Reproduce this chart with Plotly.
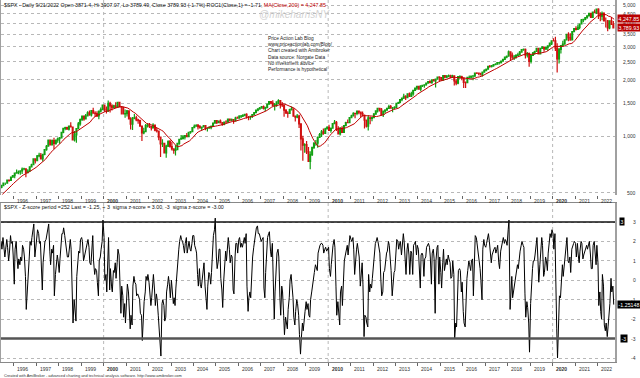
import math
import pandas as pd
import plotly.graph_objects as go

# ---------------- DATA (monthly estimates, Jun 1995 - Sep 2022) ----------------
FIRST_MONTH = "1995-06-01"
WARMUP_CLOSE = [463, 472, 454, 459, 470, 487, 501, 515, 533]  # Sep 1994 - May 1995

CLOSE = [
    545, 562, 562, 584, 582, 605, 616,
    636, 640, 645, 654, 669, 671, 640, 652, 687, 705, 757, 741,
    786, 791, 757, 801, 848, 885, 954, 899, 947, 915, 955, 970,
    980, 1049, 1102, 1112, 1091, 1134, 1121, 957, 1017, 1099, 1164, 1229,
    1280, 1238, 1286, 1335, 1302, 1373, 1329, 1320, 1283, 1363, 1389, 1469,
    1394, 1366, 1499, 1452, 1421, 1455, 1431, 1518, 1437, 1429, 1315, 1320,
    1366, 1240, 1160, 1249, 1256, 1224, 1211, 1134, 1041, 1060, 1139, 1148,
    1130, 1107, 1147, 1077, 1067, 990, 912, 916, 815, 886, 936, 880,
    856, 841, 848, 917, 964, 975, 990, 1008, 996, 1051, 1058, 1112,
    1131, 1145, 1126, 1107, 1121, 1141, 1102, 1104, 1115, 1130, 1174, 1212,
    1181, 1204, 1181, 1157, 1192, 1191, 1234, 1220, 1229, 1207, 1249, 1248,
    1280, 1281, 1295, 1311, 1270, 1270, 1277, 1304, 1336, 1378, 1401, 1418,
    1438, 1407, 1421, 1482, 1531, 1503, 1455, 1474, 1527, 1549, 1481, 1468,
    1379, 1331, 1323, 1386, 1400, 1280, 1267, 1283, 1166, 969, 896, 903,
    826, 735, 798, 873, 919, 919, 987, 1021, 1057, 1036, 1096, 1115,
    1074, 1104, 1169, 1187, 1089, 1031, 1102, 1049, 1141, 1183, 1181, 1258,
    1286, 1327, 1326, 1364, 1345, 1321, 1292, 1219, 1131, 1253, 1247, 1258,
    1312, 1366, 1408, 1398, 1310, 1362, 1379, 1407, 1441, 1412, 1416, 1426,
    1498, 1515, 1569, 1598, 1631, 1606, 1686, 1633, 1682, 1757, 1806, 1848,
    1783, 1859, 1872, 1884, 1924, 1960, 1931, 2003, 1972, 2018, 2068, 2059,
    1995, 2105, 2068, 2086, 2107, 2063, 2104, 1972, 1920, 2079, 2080, 2044,
    1940, 1932, 2060, 2065, 2097, 2099, 2174, 2171, 2168, 2126, 2199, 2239,
    2279, 2364, 2363, 2384, 2412, 2423, 2470, 2472, 2519, 2575, 2648, 2674,
    2824, 2714, 2641, 2648, 2705, 2718, 2816, 2902, 2914, 2712, 2760, 2507,
    2704, 2784, 2834, 2946, 2752, 2942, 2980, 2926, 2977, 3038, 3141, 3231,
    3226, 2954, 2585, 2912, 3044, 3100, 3271, 3500, 3363, 3270, 3622, 3756,
    3714, 3811, 3973, 4181, 4204, 4298, 4395, 4523, 4308, 4605, 4567, 4766,
    4516, 4374, 4530, 4132, 4132, 3785, 4130, 3955, 3789.93,
]

HIGH = [
    552, 564, 565, 586, 587, 608, 622,
    638, 664, 656, 656, 681, 680, 675, 667, 690, 714, 762, 762,
    795, 818, 815, 804, 851, 898, 954, 961, 960, 983, 961, 986,
    992, 1050, 1105, 1124, 1124, 1141, 1190, 1122, 1066, 1103, 1193, 1245,
    1280, 1285, 1317, 1362, 1372, 1375, 1421, 1360, 1361, 1373, 1425, 1475,
    1478, 1444, 1553, 1527, 1481, 1474, 1517, 1525, 1530, 1441, 1436, 1390,
    1383, 1377, 1264, 1269, 1316, 1286, 1240, 1226, 1135, 1110, 1164, 1173,
    1176, 1130, 1173, 1148, 1107, 1070, 994, 965, 924, 900, 952, 954,
    935, 864, 895, 924, 965, 1015, 1016, 1011, 1040, 1053, 1063, 1112,
    1155, 1158, 1163, 1150, 1128, 1146, 1140, 1112, 1131, 1142, 1188, 1217,
    1217, 1212, 1229, 1192, 1199, 1219, 1245, 1246, 1243, 1233, 1270, 1276,
    1295, 1297, 1311, 1319, 1326, 1284, 1280, 1307, 1340, 1389, 1407, 1431,
    1441, 1462, 1438, 1498, 1535, 1540, 1556, 1504, 1539, 1576, 1553, 1524,
    1471, 1396, 1359, 1404, 1441, 1405, 1292, 1314, 1304, 1167, 1007, 919,
    944, 876, 832, 876, 930, 956, 997, 1040, 1080, 1101, 1111, 1130,
    1151, 1113, 1175, 1220, 1206, 1131, 1120, 1130, 1149, 1196, 1228, 1262,
    1303, 1344, 1333, 1366, 1371, 1345, 1357, 1307, 1230, 1293, 1277, 1269,
    1333, 1378, 1419, 1422, 1415, 1363, 1392, 1426, 1475, 1471, 1434, 1448,
    1503, 1530, 1570, 1598, 1687, 1654, 1698, 1710, 1730, 1768, 1813, 1849,
    1850, 1867, 1884, 1897, 1924, 1968, 1991, 2005, 2019, 2018, 2075, 2094,
    2072, 2120, 2117, 2126, 2135, 2130, 2133, 2113, 2021, 2094, 2117, 2104,
    2039, 1963, 2073, 2111, 2103, 2120, 2178, 2194, 2188, 2169, 2214, 2278,
    2301, 2371, 2401, 2398, 2418, 2454, 2484, 2491, 2520, 2582, 2657, 2695,
    2873, 2835, 2801, 2718, 2742, 2791, 2848, 2916, 2941, 2940, 2815, 2800,
    2708, 2813, 2860, 2949, 2954, 2964, 3028, 3014, 3022, 3050, 3154, 3248,
    3338, 3394, 3137, 2955, 3068, 3233, 3280, 3514, 3588, 3550, 3646, 3760,
    3870, 3951, 3994, 4219, 4238, 4302, 4430, 4537, 4546, 4608, 4743, 4808,
    4818, 4595, 4637, 4593, 4307, 4177, 4140, 4325, 4119,
]

LOW = [
    528, 541, 550, 562, 572, 582, 602,
    597, 633, 627, 624, 630, 658, 605, 639, 650, 685, 702, 716,
    737, 773, 756, 733, 793, 836, 883, 898, 897, 855, 901, 924,
    912, 980, 1037, 1076, 1086, 1074, 1114, 957, 939, 923, 1098, 1137,
    1205, 1211, 1228, 1282, 1288, 1277, 1328, 1268, 1268, 1233, 1341, 1387,
    1350, 1325, 1347, 1339, 1374, 1420, 1414, 1431, 1429, 1305, 1315, 1255,
    1275, 1229, 1088, 1081, 1232, 1203, 1165, 1124, 945, 1026, 1054, 1114,
    1106, 1074, 1106, 1063, 1049, 953, 776, 877, 815, 768, 877, 872,
    840, 807, 789, 847, 902, 963, 962, 960, 990, 995, 1031, 1053,
    1105, 1125, 1088, 1107, 1076, 1113, 1078, 1060, 1102, 1091, 1127, 1173,
    1164, 1180, 1171, 1137, 1146, 1188, 1184, 1201, 1205, 1168, 1202, 1246,
    1245, 1253, 1268, 1280, 1245, 1219, 1224, 1253, 1290, 1327, 1360, 1385,
    1403, 1389, 1364, 1416, 1476, 1484, 1454, 1371, 1439, 1489, 1407, 1435,
    1270, 1317, 1257, 1324, 1373, 1272, 1200, 1248, 1107, 840, 741, 816,
    805, 735, 667, 784, 856, 889, 869, 978, 992, 1020, 1029, 1086,
    1071, 1045, 1101, 1170, 1066, 1029, 1011, 1040, 1040, 1131, 1173, 1186,
    1257, 1289, 1249, 1295, 1312, 1258, 1283, 1101, 1114, 1075, 1159, 1202,
    1259, 1312, 1341, 1358, 1292, 1267, 1325, 1377, 1397, 1403, 1343, 1398,
    1426, 1485, 1501, 1536, 1581, 1560, 1605, 1627, 1633, 1646, 1746, 1767,
    1770, 1737, 1834, 1814, 1859, 1915, 1930, 1905, 1964, 1821, 2001, 1973,
    1988, 1981, 2040, 2048, 2068, 2056, 2044, 1867, 1872, 1894, 2020, 1993,
    1812, 1810, 1937, 2039, 2025, 1992, 2075, 2148, 2120, 2114, 2084, 2187,
    2245, 2267, 2322, 2329, 2353, 2405, 2407, 2417, 2447, 2520, 2557, 2605,
    2683, 2533, 2585, 2553, 2595, 2691, 2699, 2796, 2864, 2603, 2631, 2347,
    2443, 2681, 2722, 2848, 2751, 2729, 2952, 2822, 2891, 2856, 3051, 3070,
    3214, 2855, 2192, 2448, 2767, 2999, 3101, 3280, 3210, 3234, 3280, 3633,
    3663, 3725, 3723, 3955, 4056, 4165, 4234, 4367, 4306, 4279, 4560, 4495,
    4223, 4115, 4157, 4132, 3811, 3637, 3721, 3955, 3789.49,
]

# z-score (252-day), two readings per month (early / late), Jun 1995 - Sep 2022
Z_SCORE = [
    2.0, 1.6, 2.2, 1.8, 1.2, 1.6, 2.1, 1.7, 1.0, 1.4, 2.3, 1.9, 2.0, 1.3,
    -0.2, 1.6, 2.0, 1.2, 0.6, 1.1, 0.8, 1.2, 1.0, 1.8, 1.6, 1.2, 0.2, -1.5, -0.2, 0.2, 1.2, 2.0, 1.8, 2.2, 2.6, 2.9, 1.2, 1.6,
    2.0, 2.6, 2.4, 1.9, 2.0, 0.3, -0.5, 0.9, 1.8, 2.0, 2.1, 2.4, 2.6, 2.9, 1.5, 0.8, 1.6, 1.4, 1.8, -0.8, 0.3, 0.9, 1.3, 1.0,
    0.4, 1.1, 1.7, 2.4, 2.4, 2.7, 2.3, 1.9, 1.7, 1.2, 1.2, 1.8, 2.1, 1.6, -0.6, -2.2, -1.0, -1.6, -2.1, 0.2, 1.2, 1.5, 1.4, 2.1,
    2.2, 2.0, 1.0, 1.2, 1.6, 1.8, 2.0, 2.1, 1.7, 0.9, 0.8, 1.9, 2.3, 1.0, 0.3, 0.6, 0.5, -0.1, -0.8, 1.0, 1.2, 1.6, 2.0, 3.1,
    2.2, 0.0, 0.3, -0.6, 0.8, 2.2, -0.5, 0.6, -0.3, -0.6, 0.5, 0.4, 0.9, 0.1, 0.9, 1.6, 1.3, 0.0, -1.7, -0.3, -0.8, -1.9, -1.2, -2.2,
    -1.0, -0.2, -0.6, -1.8, -2.5, -1.8, -2.3, -0.3, 0.2, -0.1, -0.2, -0.8, -0.7, -0.8, -1.0, -1.7, -1.8, -3.1, -1.4, -1.1, -0.6, 0.2, 0.0, 0.3,
    -0.1, -0.6, -1.3, -0.9, 0.2, 0.3, -0.5, -1.3, -0.7, -1.0, -1.8, -2.6, -3.0, -3.9, -1.2, -1.0, -1.3, -2.1, -1.9, -0.6, -0.2, 0.2, -0.3, -0.9,
    0.0, -0.7, -1.2, -0.9, -1.3, -0.4, 0.6, 1.2, 1.6, 2.0, 2.3, 2.1, 2.0, 1.8, 1.4, 1.9, 2.2, 1.4, 1.8, 2.0, 1.6, 1.5, 1.9, 2.3,
    2.3, 1.8, 1.6, 1.4, 0.3, -0.3, 0.6, -0.2, -0.4, 0.0, 0.5, 0.9, -0.3, -1.0, -1.5, -0.3, 0.4, 0.3, -0.2, 0.4, 1.9, 2.3, 2.6, 3.2,
    1.2, 0.6, 1.0, 1.6, 1.6, 0.1, -0.5, -1.4, 0.0, 1.0, 1.5, 1.0, 2.0, 2.2, 1.6, 0.9, 1.3, 1.2, -0.5, -0.7, 1.2, 1.9, 1.9, 1.4,
    2.1, 2.2, 1.7, 1.9, 1.7, 1.9, 2.2, 1.9, 2.4, -0.3, -1.6, -0.9, -0.6, -0.9, 0.5, 1.2, 1.7, 2.1, 2.5, 2.7, 2.8, 2.4, 2.4, 2.2,
    2.0, 2.1, 2.2, -0.4, -0.9, 0.4, 1.7, 2.2, 2.4, 2.5, 1.5, 1.2, 1.9, -0.3, -2.0, -0.6, 1.0, 1.4, 1.6, 1.2, -0.9, -1.8, -0.3, -0.6,
    -1.8, -2.8, -1.9, -2.1, -2.5, -1.5, -0.9, 0.0, 0.3, -0.2, -0.9, -1.9, -2.3, -1.6, -1.0, -1.2, -1.8, -2.8, -3.8, -3.0, -2.2, -2.6, -1.7, -1.6,
    -1.1, -1.5, -1.2, -1.8, -1.9, -1.0, -0.6, -0.2, 0.1, 0.4, 0.8, 0.6, 0.5, 1.4, 1.7, 1.8, 1.9, 1.9, 1.8, 1.4, 1.6, 1.7, 1.5, 1.6,
    1.7, 0.6, 0.2, 0.8, 1.5, 1.8, 2.1, 1.7, -0.3, -1.8, -1.1, -1.6, -2.3, -0.6, -0.3, -1.3, 0.5, 1.0, 1.3, 1.6, 1.8, 1.3, 2.0, 2.3,
    2.1, 2.0, 2.2, 1.6, 0.3, 1.2, 1.6, 1.9, 1.6, 1.2, -0.3, 0.4, 0.9, -0.2, -2.9, -1.8, -1.9, -2.2, -2.4, 0.3, -0.6, -0.2, -0.4, 0.1,
    0.8, 1.4, 1.9, 2.0, 2.2, 2.0, 1.5, 1.4, 0.0, -0.8, -0.6, 0.4, 0.5, 1.0, 1.4, 1.5, 2.0, 1.8, 1.1, 0.5, -0.8, 0.0, 0.4, 0.5,
    1.8, 2.1, 2.0, 1.6, 1.9, 2.0, 1.3, 1.9, 2.4, 2.0, 0.8, 0.3, 1.6, 1.9, 1.3, 0.3, 1.5, 1.4, 0.3, 1.8, 1.9, 2.0, 1.3, 1.8,
    1.6, 0.3, -0.4, 1.3, 1.4, 1.3, 0.2, 1.1, 1.2, 1.7, 1.8, 1.9, 1.7, 1.2, -0.2, 1.4, 1.6, 1.1, -1.7, 1.0, 1.7, 1.8, -0.2, 1.2,
    0.4, -0.4, 0.9, 1.6, 0.5, 0.7, 1.1, 0.8, 1.3, 1.1, 0.9, 0.1, 0.2, 1.0, 0.3, -3.0, -2.2, -2.4, -0.8, 0.5, 0.6, 0.5, -0.6, -0.1,
    -1.6, -2.2, -2.4, -1.0, 0.1, 0.5, 1.0, 0.8, 0.5, 1.0, 1.1, -0.8, 1.8, 2.3, 2.2, 1.9, 1.3, 1.0, 0.6, 0.0, -1.0, 1.6, 2.1, 1.8,
    1.7, 1.9, 2.2, 2.4, 2.0, 1.4, 0.9, 1.3, 1.5, 1.6, 1.7, 1.4, 1.6, 1.8, 0.9, 0.6, 1.5, 1.7, 2.0, 2.2, 1.9, 2.1, 2.0, 1.8,
    2.6, 3.1, -1.5, -0.4, 0.2, -0.9, -0.5, -0.3, 0.2, 0.4, 0.8, 0.6, 1.2, 1.5, 1.8, 2.0, 1.8, 1.7, -0.7, -1.9, -1.1, -1.4, -2.2, -3.7,
    -1.2, 0.0, 0.6, 1.0, 1.0, 1.3, 1.8, 2.2, 1.0, -0.1, 0.8, 1.6, 2.2, 1.8, 0.2, 0.4, 1.2, 1.0, 0.5, 1.4, 2.2, 2.4, 2.2, 2.6,
    2.4, 1.6, 2.4, -0.8, -2.5, -4.0, -1.6, -0.8, -0.9, -0.2, 0.8, 0.2, 0.8, 1.3, 1.8, 2.2, 1.0, 0.9, 1.2, 0.4, 1.6, 1.8, 1.9, 2.0,
    1.9, 1.2, 1.9, 1.3, 0.9, 1.5, 2.0, 1.9, 1.1, 1.3, 1.5, 1.7, 1.8, 1.6, 1.9, 2.0, 1.3, 0.6, 0.6, 1.8, 2.0, 1.4, 0.8, 1.8,
    0.9, -1.3, -0.6, -1.6, -2.0, 0.3, -0.3, -2.3, -2.6, -2.2, -2.9, -2.4, -1.9, -1.2, 0.1, -0.6, -0.3, -1.25148,
]

YEARS = list(range(1996, 2023))
BOLD_YEARS = [2000, 2010, 2020]
PRICE_TICKS = [500, 1000, 1500, 2000, 2500, 3000, 3500, 4000, 4500, 5000]
Z_TICKS = [3, 2, 1, 0, -1, -2, -3, -4]
SIGMA_LEVELS = [3, -3]
LAST_CLOSE = 3789.93
LAST_MA = 4247.85
LAST_Z = -1.25148

TITLE_MAIN = ("$SPX - Daily 9/21/2022 Open 3871.4, Hi 3907.07, Lo 3789.49, Close 3789.93 (-1.7%) "
              "ROC1(Close,1) = -1.71, ")
TITLE_MA = "MA(Close,200) = 4,247.85"
TITLE_Z = ("$SPX - Z-score period =252 Last = -1.25, + 3  sigma z-score = 3.00, "
           "-3  sigma z-score = -3.00")
INFO_LINES = ["Price Action Lab Blog", "www.priceactionlab.com/Blog/", "Chart created with Amibroker",
              "Data source: Norgate Data", "No investment advice", "Performance is hypothetical"]
WATERMARK = "@mikeharrisNY"
FOOTER = ("Created with AmiBroker - advanced charting and technical analysis software. "
          "http://www.amibroker.com")

# ---------------- derived series ----------------
months = pd.date_range(FIRST_MONTH, periods=len(CLOSE), freq="MS")
candle_x = months + pd.Timedelta(days=14)
opens = [WARMUP_CLOSE[-1]] + CLOSE[:-1]
all_close = pd.Series(WARMUP_CLOSE + CLOSE)
ma = all_close.rolling(10).mean().iloc[len(WARMUP_CLOSE):].tolist()
ma_x = months + pd.Timedelta(days=27)
z_x = []
for m in months:
    z_x.append(m + pd.Timedelta(days=7))
    z_x.append(m + pd.Timedelta(days=20))

# ---------------- layout geometry ----------------
W, H = 640, 378
ML, MR, MT, MB = 1, 25, 0, 16
PW, PH = W - ML - MR, H - MT - MB
MAIN_BOT = 195
LOW_TOP = 203


def fx(px):
    return (px - ML) / PW


def fy(py):
    return (PH - (py - MT)) / PH


dec = 192.7 - 5.3                       # 5000 at y=5.3, 500 at y=192.7
p_top = math.log10(5000) + (5.3 - MT) / dec
p_bot = math.log10(500) - (MAIN_BOT - 192.7) / dec
zu = (358 - 222) / 7.0                  # 3 at y=222, -4 at y=358
z_top = 3 + (222 - LOW_TOP) / zu
z_bot = -4 - (H - MB - 358) / zu

X_RANGE = ["1995-06-06", "2022-10-12"]

GREEN = "#12a012"
RED = "#d01010"
MA_RED = "#c00000"
FONT = "Liberation Sans, Arial, sans-serif"

fig = go.Figure()
fig.add_trace(go.Candlestick(
    x=candle_x, open=opens, high=HIGH, low=LOW, close=CLOSE,
    xaxis="x", yaxis="y", showlegend=False, hoverinfo="skip",
    increasing=dict(line=dict(color=GREEN, width=1.2), fillcolor=GREEN),
    decreasing=dict(line=dict(color=RED, width=1.2), fillcolor=RED),
))
fig.add_trace(go.Scatter(x=ma_x, y=ma, mode="lines", xaxis="x", yaxis="y",
                         line=dict(color=MA_RED, width=1), showlegend=False, hoverinfo="skip"))
fig.add_trace(go.Scatter(x=z_x, y=Z_SCORE, mode="lines", xaxis="x2", yaxis="y2",
                         line=dict(color="black", width=1), showlegend=False, hoverinfo="skip"))

tickvals = [f"{y}-01-01" for y in YEARS]
xcommon = dict(type="date", range=X_RANGE, tickvals=tickvals, showticklabels=False,
               ticks="outside", ticklen=3, tickcolor="#666", tickwidth=1,
               showgrid=False, zeroline=False, rangeslider=dict(visible=False))

fig.update_layout(
    width=W, height=H, margin=dict(l=ML, r=MR, t=MT, b=MB, pad=0),
    paper_bgcolor="white", plot_bgcolor="white", font=dict(family=FONT),
    showlegend=False,
    xaxis=dict(domain=[0, 1], anchor="y", showline=False, **xcommon),
    xaxis2=dict(domain=[0, 1], anchor="y2", matches="x", showline=True, mirror=True,
                linecolor="#888", linewidth=1, **xcommon),
    yaxis=dict(domain=[fy(MAIN_BOT), 1], type="log", range=[p_bot, p_top], side="right",
               tickvals=PRICE_TICKS, showticklabels=False, ticks="",
               showgrid=True, gridcolor="#b8b8b8", griddash="dot", gridwidth=1,
               showline=True, mirror=True, linecolor="#a0a0a0", linewidth=1.5, zeroline=False),
    yaxis2=dict(domain=[0, fy(LOW_TOP)], range=[z_bot, z_top], side="right",
                tickvals=Z_TICKS, showticklabels=False, ticks="",
                showgrid=True, gridcolor="#b8b8b8", griddash="dot", gridwidth=1,
                showline=True, mirror=True, linecolor="#a0a0a0", linewidth=1.5, zeroline=False),
)

shapes = []
for y in BOLD_YEARS:
    for yr in ["y domain", "y2 domain"]:
        shapes.append(dict(type="line", xref="x", yref=yr, x0=f"{y}-01-01", x1=f"{y}-01-01",
                           y0=0, y1=1, line=dict(color="#b8b8b8", width=1, dash="dot"), layer="below"))
for lvl in SIGMA_LEVELS:
    shapes.append(dict(type="line", xref="x domain", yref="y2", x0=0, x1=1, y0=lvl, y1=lvl,
                       line=dict(color="#111" if lvl > 0 else "#555", width=1.3 if lvl > 0 else 2.4)))
fig.update_layout(shapes=shapes)

ann = []
# year labels (drawn right of the year tick, AmiBroker style)
for y in YEARS:
    txt = f"<b>{y}</b>" if y in BOLD_YEARS else str(y)
    for xr, py in [("x", 200.5), ("x2", 368.5)]:
        ann.append(dict(x=f"{y}-01-01", xref=xr, xanchor="left", xshift=1.5, y=fy(py), yref="paper",
                        yanchor="middle", text=txt, showarrow=False,
                        font=dict(size=5, color="#333", family=FONT)))
# right axis tick labels (right aligned)
for v in PRICE_TICKS:
    ann.append(dict(x=fx(638), xref="paper", xanchor="right", y=math.log10(v), yref="y",
                    yanchor="middle", text=f"{v:,}", showarrow=False,
                    font=dict(size=5, color="#333", family=FONT)))
for v in Z_TICKS:
    ann.append(dict(x=fx(638), xref="paper", xanchor="right", y=v, yref="y2",
                    yanchor="middle", text=str(v), showarrow=False,
                    font=dict(size=5, color="#333", family=FONT)))
# value boxes
for val, txt in [(LAST_MA, f"{LAST_MA:,.2f}"), (LAST_CLOSE, f"{LAST_CLOSE:,.2f}")]:
    ann.append(dict(x=fx(617), xref="paper", xanchor="left", y=math.log10(val), yref="y",
                    yanchor="middle", text=txt, showarrow=False, bgcolor="#b80000", borderpad=0.5,
                    font=dict(size=5.3, color="white", family=FONT)))
ann.append(dict(x=fx(617), xref="paper", xanchor="left", y=LAST_Z, yref="y2", yanchor="middle",
                text=f"{LAST_Z:.5f}", showarrow=False, bgcolor="black", borderpad=0.5,
                font=dict(size=5.3, color="white", family=FONT)))
for lvl, xp in [(3, 619), (-3, 620)]:
    ann.append(dict(x=fx(xp), xref="paper", xanchor="left", y=lvl, yref="y2", yanchor="middle",
                    text=str(lvl), showarrow=False, bgcolor="black", borderpad=0.5,
                    font=dict(size=5, color="white", family=FONT)))
# titles and texts
ann.append(dict(x=fx(2), xref="paper", xanchor="left", y=fy(5), yref="paper", yanchor="middle",
                text=TITLE_MAIN + f"<span style='color:{MA_RED}'>{TITLE_MA}</span>", showarrow=False,
                font=dict(size=5.3, color="#111", family=FONT)))
ann.append(dict(x=fx(257), xref="paper", xanchor="left", y=fy(14.5), yref="paper", yanchor="middle",
                text=f"<i>{WATERMARK}</i>", showarrow=False,
                font=dict(size=10, color="#d2d2d2", family=FONT)))
ann.append(dict(x=fx(266), xref="paper", xanchor="left", y=fy(33.5), yref="paper", yanchor="top",
                text="<br>".join(INFO_LINES), showarrow=False, align="left",
                font=dict(size=4.8, color="#222", family=FONT)))
ann.append(dict(x=fx(2), xref="paper", xanchor="left", y=fy(207), yref="paper", yanchor="middle",
                text=TITLE_Z, showarrow=False, font=dict(size=5.3, color="#111", family=FONT)))
ann.append(dict(x=fx(2), xref="paper", xanchor="left", y=fy(375), yref="paper", yanchor="middle",
                text=FOOTER, showarrow=False, font=dict(size=3.9, color="#333", family=FONT)))
fig.update_layout(annotations=ann)

# remove the default 8px page margin so the 640x378 figure fills the window exactly
fig.write_html("out.html", config={"staticPlot": True, "displayModeBar": False},
               post_script="document.body.style.margin='0px';")
